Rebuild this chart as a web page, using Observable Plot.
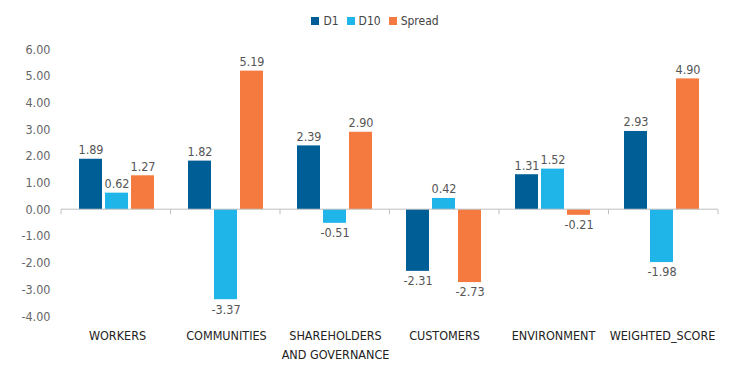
<!DOCTYPE html>
<html>
<head>
<meta charset="utf-8">
<script src="https://cdn.jsdelivr.net/npm/d3@7"></script>
<script src="https://cdn.jsdelivr.net/npm/@observablehq/plot@0.6"></script>
<style>
  body { margin: 0; background: #fff; font-family: "Liberation Sans Narrow", "DejaVu Sans", sans-serif; font-stretch: condensed; }
  #legend { height: 30px; box-sizing: border-box; padding-top: 12px; display: flex; justify-content: center; align-items: center; font-size: 12px; line-height: 14px; color: #444; }
  #legend .item { display: flex; align-items: center; margin: 0 4px; }
  #legend .sw { width: 8px; height: 8px; margin-right: 4px; }
</style>
</head>
<body>
<div id="legend"></div>
<div id="chart"></div>
<script>
const categories = ["WORKERS", "COMMUNITIES", "SHAREHOLDERS AND GOVERNANCE", "CUSTOMERS", "ENVIRONMENT", "WEIGHTED_SCORE"];
const series = ["D1", "D10", "Spread"];
const d1Values = [1.89, 1.82, 2.39, -2.31, 1.31, 2.93];
const d10Values = [0.62, -3.37, -0.51, 0.42, 1.52, -1.98];
const spreadValues = [1.27, 5.19, 2.90, -2.73, -0.21, 4.90];
const yTicks = [-4, -3, -2, -1, 0, 1, 2, 3, 4, 5, 6];
const colors = ["#005e96", "#20b5e8", "#f47a40"];

const seriesValues = [d1Values, d10Values, spreadValues];
const data = [];
categories.forEach((c, i) => series.forEach((s, j) => data.push({category: c, series: s, value: seriesValues[j][i]})));

const legend = document.getElementById("legend");
series.forEach((s, j) => {
  const it = document.createElement("div");
  it.className = "item";
  it.innerHTML = `<span class="sw" style="background:${colors[j]}"></span><span>${s}</span>`;
  legend.appendChild(it);
});

const font = `"Liberation Sans Narrow", "DejaVu Sans", sans-serif`;

const plot = Plot.plot({
  width: 750,
  height: 345,
  marginLeft: 61,
  marginRight: 32,
  marginTop: 19,
  marginBottom: 59,
  style: {fontFamily: font, fontStretch: "condensed", background: "#fff"},
  fx: {domain: categories, paddingInner: 0.3, paddingOuter: 0.15, label: null},
  x: {domain: series, paddingInner: 0.1, paddingOuter: 0, axis: null},
  y: {domain: [-4, 6], label: null},
  color: {domain: series, range: colors},
  marks: [
    Plot.axisY({ticks: yTicks, tickSize: 0, tickPadding: 29, tickFormat: d => d.toFixed(2), fill: "#666", fontSize: 12.5, label: null}),
    Plot.axisFx({anchor: "bottom", tickSize: 0, tickPadding: 10, fontSize: 12.5, lineHeight: 1.5, fill: "#222", label: null,
      tickFormat: d => d.replace(" AND ", "\nAND ")}),
    Plot.barY(data, {fx: "category", x: "series", y: "value", fill: "series"}),
    Plot.text(data.filter(d => d.value >= 0), {fx: "category", x: "series", y: "value", text: d => d.value.toFixed(2), lineAnchor: "bottom", dy: -5, fontSize: 12.5, fill: "#555"}),
    Plot.text(data.filter(d => d.value < 0), {fx: "category", x: "series", y: "value", text: d => d.value.toFixed(2), lineAnchor: "top", dy: 5, fontSize: 12.5, fill: "#555"})
  ]
});

document.getElementById("chart").appendChild(plot);

// zero baseline and boundary ticks on the category axis, derived from the fx and y scales
const fxs = plot.scale("fx");
const pi = fxs.paddingInner ?? 0.3;
const band = d3.scaleBand(fxs.domain, fxs.range).paddingInner(pi).paddingOuter(fxs.paddingOuter ?? 0.15);
const y0 = plot.scale("y").apply(0);
const bounds = categories.map(c => band(c) - band.step() * pi / 2);
bounds.push(band(categories[categories.length - 1]) + band.bandwidth() + band.step() * pi / 2);
const g = d3.select(plot).append("g").attr("stroke", "#bfbfbf");
g.append("line").attr("x1", fxs.range[0]).attr("x2", fxs.range[1]).attr("y1", y0).attr("y2", y0);
g.selectAll("line.tick").data(bounds).join("line").attr("class", "tick")
  .attr("x1", d => d).attr("x2", d => d)
  .attr("y1", y0).attr("y2", y0 + 5);
</script>
</body>
</html>
